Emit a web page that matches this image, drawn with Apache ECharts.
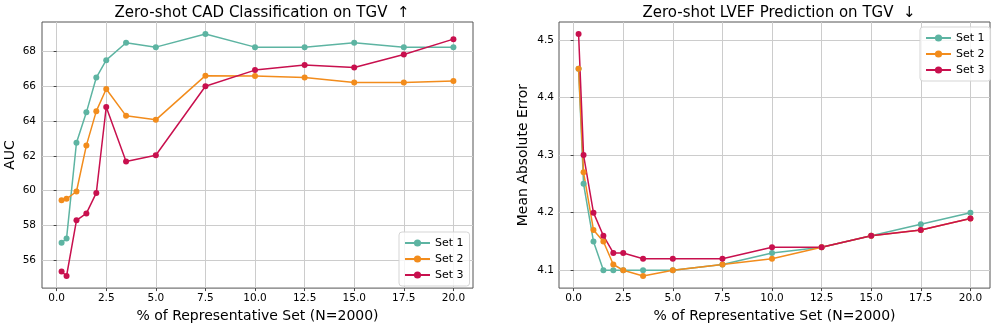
<!DOCTYPE html>
<html><head><meta charset="utf-8">
<script src="https://cdn.jsdelivr.net/npm/echarts@6/dist/echarts.min.js"></script>
<style>html,body{margin:0;padding:0;background:#fff}#c{width:996px;height:328px}</style>
</head><body><div id="c"></div>
<script>
const xValues = [0.25, 0.5, 1, 1.5, 2, 2.5, 3.5, 5, 7.5, 10, 12.5, 15, 17.5, 20];
const xTicks = [0, 2.5, 5, 7.5, 10, 12.5, 15, 17.5, 20];
const aucTicks = [56, 58, 60, 62, 64, 66, 68];
const maeTicks = [4.1, 4.2, 4.3, 4.4, 4.5];
const seriesNames = ['Set 1', 'Set 2', 'Set 3'];

const aucSet1 = [57.0, 57.25, 62.75, 64.5, 66.5, 67.5, 68.5, 68.25, 69.0, 68.25, 68.25, 68.5, 68.25, 68.25];
const aucSet2 = [59.45, 59.53, 59.95, 62.6, 64.57, 65.84, 64.3, 64.07, 66.61, 66.59, 66.51, 66.21, 66.21, 66.3];
const aucSet3 = [55.35, 55.09, 58.29, 58.69, 59.87, 64.81, 61.67, 62.03, 66.0, 66.93, 67.22, 67.08, 67.83, 68.71];

const maeSet1 = [4.45, 4.25, 4.15, 4.10, 4.10, 4.10, 4.10, 4.10, 4.11, 4.13, 4.14, 4.16, 4.18, 4.20];
const maeSet2 = [4.45, 4.27, 4.17, 4.15, 4.11, 4.10, 4.09, 4.10, 4.11, 4.12, 4.14, 4.16, 4.17, 4.19];
const maeSet3 = [4.51, 4.30, 4.20, 4.16, 4.13, 4.13, 4.12, 4.12, 4.12, 4.14, 4.14, 4.16, 4.17, 4.19];

const colors = ['#5DB4A2', '#F28C1C', '#C8104E'];
const FONT = 'DejaVu Sans';

function pairs(ys) { return xValues.map((x, i) => [x, ys[i]]); }
function pad(lo, hi) { const m = (hi - lo) * 0.05; return [lo - m, hi + m]; }

const xr = pad(Math.min(...xValues), Math.max(...xValues));
const aucAll = aucSet1.concat(aucSet2, aucSet3);
const maeAll = maeSet1.concat(maeSet2, maeSet3);
const ar = pad(Math.min(...aucAll), Math.max(...aucAll));
const mr = pad(Math.min(...maeAll), Math.max(...maeAll));

function xAxis(gi) {
  return {
    type: 'value', gridIndex: gi, min: xr[0], max: xr[1],
    name: '% of Representative Set (N=2000)', nameLocation: 'middle', nameGap: 17,
    nameTextStyle: { fontFamily: FONT, fontSize: 14, color: '#000' },
    axisLine: { show: false },
    axisTick: { show: true, length: 3, lineStyle: { color: '#444' }, customValues: xTicks },
    axisLabel: { fontFamily: FONT, fontSize: 10.5, color: '#000', margin: 5, customValues: xTicks,
      formatter: v => v.toFixed(1) },
    splitLine: { show: true, lineStyle: { color: '#cccccc', width: 1 } }
  };
}
function yAxis(gi, r, ticks, name, gap, dec, margin) {
  return {
    type: 'value', gridIndex: gi, min: r[0], max: r[1],
    name: name, nameLocation: 'middle', nameGap: gap,
    nameTextStyle: { fontFamily: FONT, fontSize: 14, color: '#000' },
    axisLine: { show: false },
    axisTick: { show: true, length: 3, lineStyle: { color: '#444' }, customValues: ticks },
    axisLabel: { fontFamily: FONT, fontSize: 10.5, color: '#000', margin: margin, customValues: ticks,
      formatter: v => v.toFixed(dec) },
    splitLine: { show: true, lineStyle: { color: '#cccccc', width: 1 } }
  };
}
function line(name, data, ci, gi) {
  return {
    type: 'line', name: name, xAxisIndex: gi, yAxisIndex: gi, data: pairs(data),
    symbol: 'circle', symbolSize: 6, color: colors[ci],
    lineStyle: { width: 1.5, color: colors[ci] }, itemStyle: { color: colors[ci] },
    animation: false, emphasis: { disabled: true }
  };
}
function legend(left, top) {
  return {
    data: seriesNames, orient: 'vertical', left: left, top: top,
    itemWidth: 25, itemHeight: 9, itemGap: 2,
    padding: [4, 6, 4, 5], backgroundColor: 'rgba(255,255,255,0.8)',
    borderColor: '#d5d5d5', borderWidth: 1, borderRadius: 3,
    textStyle: { fontFamily: FONT, fontSize: 11, color: '#000', lineHeight: 14 }
  };
}

const chart = echarts.init(document.getElementById('c'), null, { renderer: 'canvas' });
chart.setOption({
  animation: false,
  title: [
    { text: 'Zero-shot CAD Classification on TGV  ↑', left: 257, top: 1, textAlign: 'center',
      textStyle: { fontFamily: FONT, fontSize: 15, fontWeight: 'normal', color: '#000' } },
    { text: 'Zero-shot LVEF Prediction on TGV  ↓', left: 774, top: 1, textAlign: 'center',
      textStyle: { fontFamily: FONT, fontSize: 15, fontWeight: 'normal', color: '#000' } }
  ],
  grid: [
    { left: 42, top: 22, width: 431, height: 267, show: true, borderColor: '#555', borderWidth: 1, backgroundColor: 'transparent' },
    { left: 559, top: 22, width: 431, height: 267, show: true, borderColor: '#555', borderWidth: 1, backgroundColor: 'transparent' }
  ],
  xAxis: [xAxis(0), xAxis(1)],
  yAxis: [yAxis(0, ar, aucTicks, 'AUC', 25, 0, 6), yAxis(1, mr, maeTicks, 'Mean Absolute Error', 29, 1, 5)],
  legend: [legend(399, 232), legend(920, 27)],
  series: [
    line('Set 1', aucSet1, 0, 0), line('Set 2', aucSet2, 1, 0), line('Set 3', aucSet3, 2, 0),
    line('Set 1', maeSet1, 0, 1), line('Set 2', maeSet2, 1, 1), line('Set 3', maeSet3, 2, 1)
  ]
});
</script></body></html>
